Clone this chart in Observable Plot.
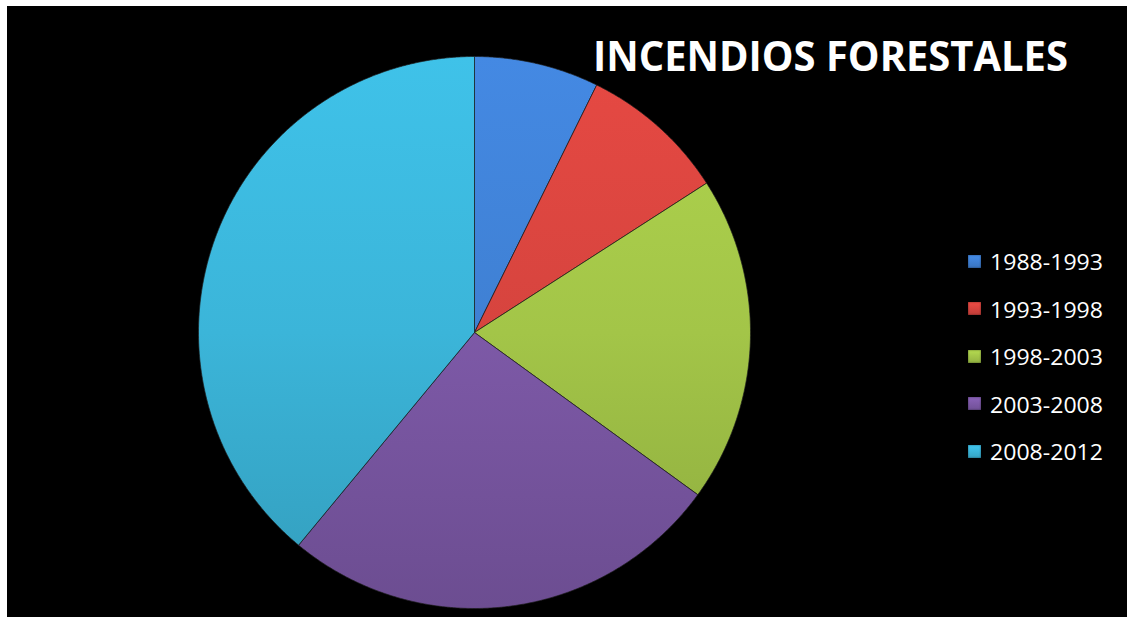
<!DOCTYPE html>
<html>
<head>
<meta charset="utf-8">
<script src="https://cdn.jsdelivr.net/npm/d3@7"></script>
<script src="https://cdn.jsdelivr.net/npm/@observablehq/plot@0.6"></script>
<style>
  html, body { margin: 0; padding: 0; background: #000000; width: 100%; height: 100%; overflow: hidden; }
  #topstrip { position: fixed; left: 0; top: 0; right: 0; height: 6px; background: #ffffff; z-index: 5; }
  #leftstrip { position: fixed; left: 0; top: 0; bottom: 0; width: 7px; background: #ffffff; z-index: 5; }
  #panel { position: absolute; left: 7px; top: 6px; width: 1120px; height: 611px; background: #000000; }
  #title { position: absolute; left: 586px; top: 28px; font-family: "Open Sans", sans-serif; font-weight: 700; font-size: 42px; color: #ffffff; white-space: nowrap; transform-origin: 0 0; line-height: 1; }
  #legend { position: absolute; left: 961px; top: 240px; font-family: "Open Sans", sans-serif; color: #ffffff; }
  .row { position: absolute; left: 0; height: 30px; display: flex; align-items: center; white-space: nowrap; }
  .sw { width: 13px; height: 13px; margin-right: 9px; box-shadow: inset 0 0 2px rgba(0,0,0,0.6); }
  .lab { font-size: 22px; transform-origin: 0 50%; display: inline-block; }
</style>
</head>
<body>
<div id="topstrip"></div>
<div id="leftstrip"></div>
<div id="panel"></div>
<script>
const categories = ["1988-1993", "1993-1998", "1998-2003", "2003-2008", "2008-2012"];
const values = [7.3, 8.6, 19.1, 26.0, 39.0];
const colors = ["#3f80d3", "#d6443e", "#a3c548", "#7d59a7", "#3bb5d9"];
const titleText = "INCENDIOS FORESTALES";

const data = categories.map((c, i) => ({category: c, value: values[i], color: colors[i], grad: `url(#grad${i})`}));

const arcs = d3.pie().sort(null).value(d => d.value)(data);
const points = [];
arcs.forEach((a, i) => {
  points.push({k: i, x: 0, y: 0, fill: data[i].grad});
  const n = Math.max(8, Math.ceil((a.endAngle - a.startAngle) / 0.005));
  for (let j = 0; j <= n; j++) {
    const t = a.startAngle + (a.endAngle - a.startAngle) * j / n;
    points.push({k: i, x: Math.sin(t), y: Math.cos(t), fill: data[i].grad});
  }
  points.push({k: i, x: 0, y: 0, fill: data[i].grad});
});

const W = 1120, H = 611;
const chart = Plot.plot({
  width: W,
  height: H,
  marginLeft: 191,
  marginRight: 377,
  marginTop: 50,
  marginBottom: 9,
  x: {domain: [-1, 1], axis: null},
  y: {domain: [-1, 1], axis: null},
  color: {type: "identity"},
  style: {background: "transparent", overflow: "visible"},
  marks: [
    Plot.line(points, {x: "x", y: "y", z: "k", fill: "fill", stroke: "#1b1b1b", strokeWidth: 1, strokeOpacity: 0.7, curve: "linear"})
  ]
});

// gradient definitions for the shaded slices
const ns = "http://www.w3.org/2000/svg";
const defs = document.createElementNS(ns, "defs");
colors.forEach((c, i) => {
  const g = document.createElementNS(ns, "linearGradient");
  g.setAttribute("id", `grad${i}`);
  g.setAttribute("gradientUnits", "userSpaceOnUse");
  g.setAttribute("x1", 0); g.setAttribute("x2", 0);
  g.setAttribute("y1", 50); g.setAttribute("y2", H - 9);
  const stops = [[0, d3.color(c).brighter(0.2)], [0.5, d3.color(c)], [1, d3.color(c).darker(0.4)]];
  stops.forEach(([o, col]) => {
    const s = document.createElementNS(ns, "stop");
    s.setAttribute("offset", o);
    s.setAttribute("stop-color", col.formatHex());
    g.appendChild(s);
  });
  defs.appendChild(g);
});
chart.insertBefore(defs, chart.firstChild);

const panel = document.getElementById("panel");
panel.appendChild(chart);

// title
const title = document.createElement("div");
title.id = "title";
title.textContent = titleText;
panel.appendChild(title);
const tw = title.getBoundingClientRect().width;
title.style.transform = `scaleX(${475 / tw})`;

// legend
const legend = document.createElement("div");
legend.id = "legend";
panel.appendChild(legend);
categories.forEach((c, i) => {
  const row = document.createElement("div");
  row.className = "row";
  row.style.top = (i * 47.6) + "px";
  const sw = document.createElement("div");
  sw.className = "sw";
  sw.style.background = `linear-gradient(${d3.color(colors[i]).brighter(0.3).formatHex()}, ${d3.color(colors[i]).darker(0.3).formatHex()})`;
  const lab = document.createElement("span");
  lab.className = "lab";
  lab.textContent = c;
  row.appendChild(sw);
  row.appendChild(lab);
  legend.appendChild(row);
  const lw = lab.getBoundingClientRect().width;
  lab.style.transform = `scaleX(${113 / lw})`;
});
</script>
</body>
</html>
